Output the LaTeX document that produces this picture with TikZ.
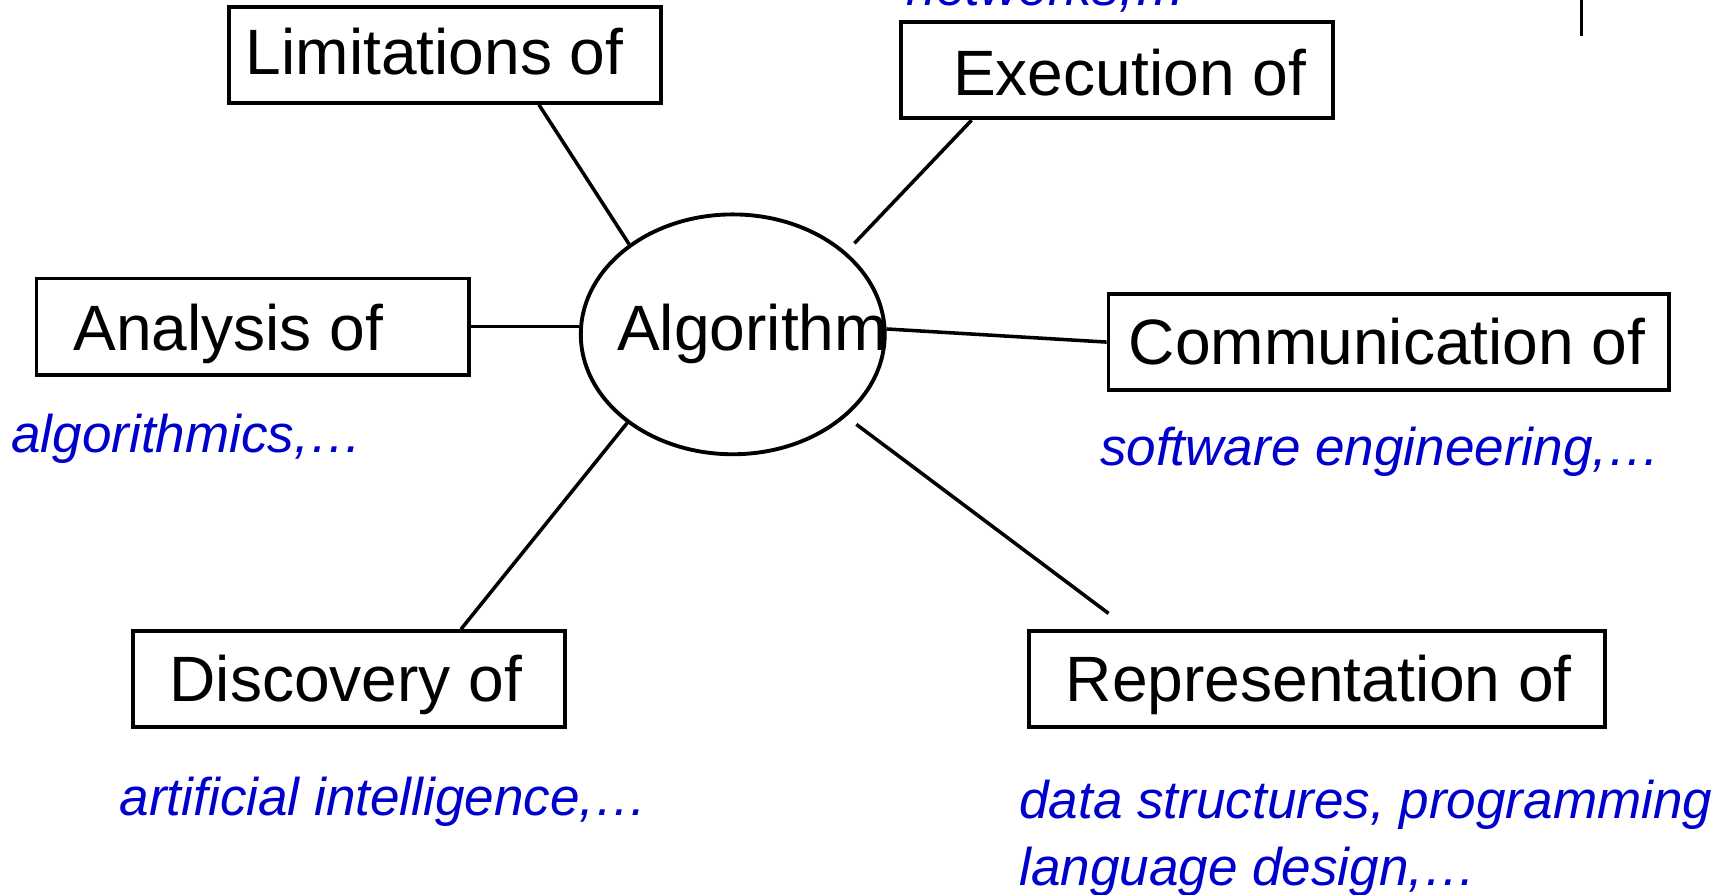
\documentclass[tikz,border=0pt]{standalone}
\usepackage{fontspec}
\setmainfont{Liberation Sans}
\usetikzlibrary{fit,shapes.geometric}
\definecolor{notecol}{RGB}{0,0,204}
\begin{document}
\begin{tikzpicture}[x=0.5pt,y=-0.5pt,
  box/.style={draw, line width=1.75pt, inner sep=0pt},
  lbl/.style={anchor=base west, inner sep=0pt, font=\fontsize{29}{34}\selectfont},
  note/.style={anchor=base west, inner sep=0pt, text=notecol, font=\fontsize{24}{29}\selectfont\itshape},
  conn/.style={line width=1.6pt}]
\useasboundingbox (0,0) rectangle (1568,809);
\clip (0,0) rectangle (1568,809);
% boxes
\node[box, fit={(207,6) (598,93)}] (lim) {};
\node[box, fit={(815,20) (1206,107)}] (exe) {};
\node[box, fit={(33,252) (424,339)}] (ana) {};
\node[box, fit={(1003,266) (1510,353)}] (com) {};
\node[box, fit={(120,571) (511,658)}] (dis) {};
\node[box, fit={(931,571) (1452,658)}] (rep) {};
\node[draw, ellipse, line width=1.75pt, inner sep=0pt, minimum width=137.5pt, minimum height=108.5pt] (alg) at (663,302.5) {};
% labels
\node[lbl] (limt) at (222,67) {Limitations of};
\node[lbl] (exet) at (862,86) {Execution of};
\node[lbl] (anat) at (66,317) {Analysis of};
\node[lbl] (comt) at (1021,330) {Communication of};
\node[lbl] (dist) at (153,635) {Discovery of};
\node[lbl] (rept) at (964,635) {Representation of};
\node[lbl] (algt) at (558,317) {Algorithm};
% notes
\node[note] (n0) at (820,5) {networks,…};
\node[note] (n1) at (10,409) {algorithmics,…};
\node[note] (n2) at (995,421) {software engineering,…};
\node[note] (n3) at (108,738) {artificial intelligence,…};
\node[note] (n4) at (922,741) {data structures, programming};
\node[note] (n5) at (922,801) {language design,…};
% connectors
\coordinate (repend) at (1003,555);
\draw[conn] (lim.-28.4) -- (alg.139.4);
\draw[conn, shorten >=5.4pt] (exe.199.4) -- (alg.36.4);
\draw[conn] (ana.east) -- (ana.east -| alg.west);
\draw[conn] (alg.2.7) -- (com.west);
\draw[conn] (dis.24.7) -- (alg.220.6);
\draw[conn, shorten <=5.75pt] (alg.-36.2) -- (repend);
% top-right mark
\coordinate (vt) at (1431,0);
\coordinate (vb) at (1431,33);
\draw[line width=1.3pt] (vt) -- (vb);
\end{tikzpicture}
\end{document}
